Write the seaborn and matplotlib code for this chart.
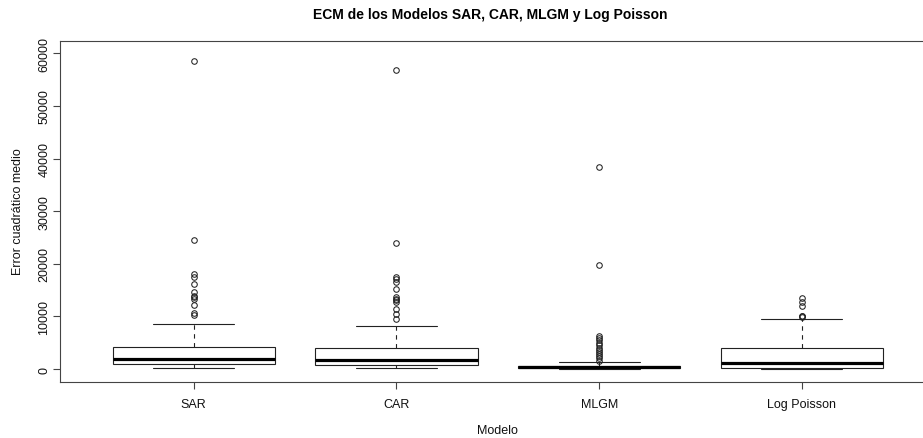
import matplotlib
matplotlib.use("Agg")
import matplotlib.pyplot as plt
import seaborn as sns

# ---- data ----
models = ["SAR", "CAR", "MLGM", "Log Poisson"]
whislo = [130, 130, 10, 10]
q1 = [950, 760, 100, 120]
med = [1840, 1700, 300, 1140]
q3 = [4170, 3920, 600, 3920]
whishi = [8600, 8220, 1400, 9560]
out_sar = [58500, 24500, 18000, 17500, 16100, 14550, 13900, 13650, 13300, 12150, 10600, 10250]
out_car = [56800, 24000, 17500, 17100, 16450, 15300, 13600, 13300, 13100, 12800, 11500, 10550, 9600]
out_mlgm = [38400, 19700, 6300, 5900, 5500, 5000, 4500, 4000, 3600, 3200, 2800, 2400, 2000, 1600]
out_logp = [13500, 12800, 12050, 10100, 10000, 9900]
y_ticks = [0, 10000, 20000, 30000, 40000, 50000, 60000]

sns.set_theme(style="white")
plt.rcParams["font.family"] = ["Liberation Sans", "DejaVu Sans"]

fig = plt.figure(figsize=(9.23, 4.39), dpi=100)
W, H = 923, 439
left, right, top, bottom = 60, 935.6, 42, 382.7
ax = fig.add_axes([left / W, (H - bottom) / H, (right - left) / W, (bottom - top) / H])

outs = [out_sar, out_car, out_mlgm, out_logp]
stats = []
for i, m in enumerate(models):
    stats.append(dict(label=m, whislo=whislo[i], q1=q1[i], med=med[i],
                      q3=q3[i], whishi=whishi[i], fliers=outs[i]))

lc = "#222222"
ax.bxp(stats, positions=[1, 2, 3, 4], widths=0.8, capwidths=0.4,
       showfliers=True, patch_artist=True,
       boxprops=dict(facecolor="white", edgecolor=lc, linewidth=0.8),
       medianprops=dict(color="black", linewidth=2.3, solid_capstyle="butt"),
       whiskerprops=dict(color=lc, linewidth=0.8, linestyle=(0, (4, 4))),
       capprops=dict(color=lc, linewidth=0.8),
       flierprops=dict(marker="o", markersize=4, markerfacecolor="none",
                       markeredgecolor=lc, markeredgewidth=0.75, linestyle="none"))

ax.set_xlim(0.34, 4.66)
ax.set_ylim(-2410, 62350)
ax.set_xticks([1, 2, 3, 4])
ax.set_xticklabels(models, fontsize=9, color="#111111")
ax.set_yticks(y_ticks)
ax.set_yticklabels([str(v) for v in y_ticks], rotation=90, va="center",
                   fontsize=9, color="#111111")
ax.tick_params(axis="both", direction="out", length=5, width=0.8, color="#444444",
               left=True, bottom=True)
ax.tick_params(axis="y", pad=2)
ax.tick_params(axis="x", pad=7)
for s in ax.spines.values():
    s.set_visible(True)
    s.set_color("#444444")
    s.set_linewidth(0.8)
ax.grid(False)

fig.text(497.7 / W, 1 - 431 / H, "Modelo", ha="center", va="center",
         fontsize=9, color="#111111")
fig.text(18 / W, 1 - 212 / H, "Error cuadrático medio", ha="center", va="center",
         rotation=90, fontsize=9, color="#111111")
fig.text(490 / W, 1 - 15 / H,
         "ECM de los Modelos SAR, CAR, MLGM y Log Poisson",
         ha="center", va="center", fontsize=10, fontweight="bold", color="black")

fig.savefig("out.png", dpi=100, facecolor="white")
